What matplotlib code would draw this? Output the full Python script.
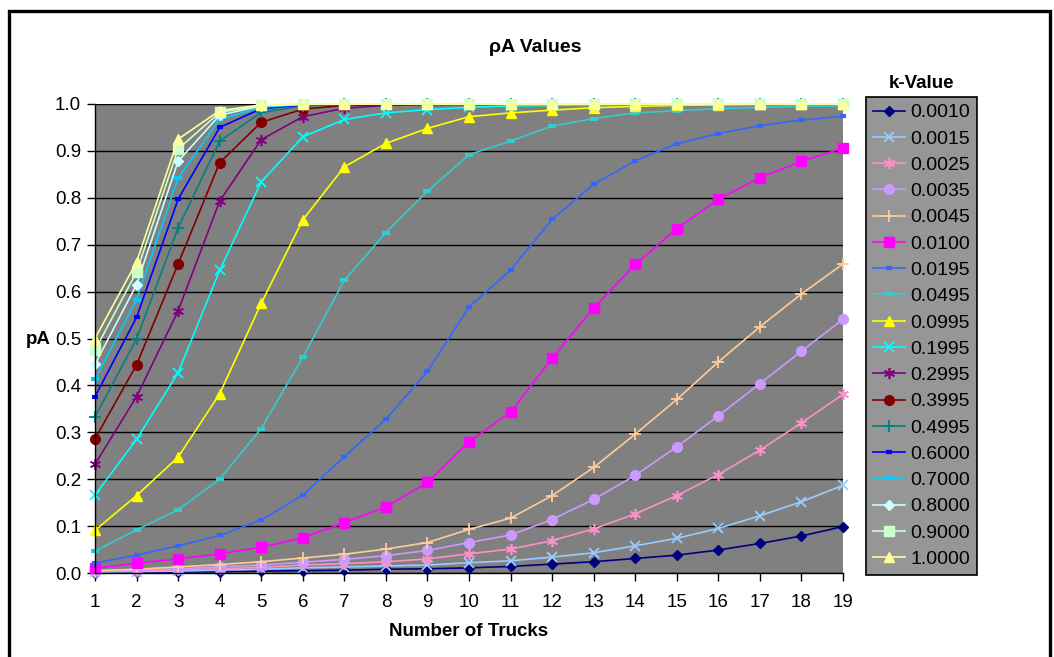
import numpy as np
import matplotlib
matplotlib.use('Agg')
import matplotlib.pyplot as plt
import matplotlib.patches as patches

plt.rcParams['font.family'] = ['Liberation Sans', 'DejaVu Sans']

# number of trucks
trucks = list(range(1, 20))

k_labels = ['0.0010', '0.0015', '0.0025', '0.0035', '0.0045', '0.0100', '0.0195', '0.0495', '0.0995',
            '0.1995', '0.2995', '0.3995', '0.4995', '0.6000', '0.7000', '0.8000', '0.9000', '1.0000']

pa_0010 = [0.001, 0.002, 0.002, 0.003, 0.004, 0.005, 0.006, 0.008, 0.009, 0.011, 0.014, 0.019, 0.024, 0.031, 0.038, 0.049, 0.063, 0.079, 0.099]
pa_0015 = [0.002, 0.003, 0.004, 0.006, 0.008, 0.011, 0.013, 0.015, 0.017, 0.022, 0.026, 0.034, 0.043, 0.058, 0.074, 0.095, 0.122, 0.152, 0.187]
pa_0025 = [0.003, 0.005, 0.007, 0.009, 0.012, 0.017, 0.020, 0.024, 0.030, 0.041, 0.051, 0.069, 0.094, 0.126, 0.165, 0.210, 0.262, 0.320, 0.381]
pa_0035 = [0.004, 0.006, 0.009, 0.013, 0.017, 0.023, 0.029, 0.037, 0.048, 0.065, 0.081, 0.114, 0.157, 0.208, 0.269, 0.335, 0.404, 0.473, 0.541]
pa_0045 = [0.005, 0.008, 0.013, 0.018, 0.024, 0.032, 0.040, 0.051, 0.065, 0.093, 0.117, 0.165, 0.225, 0.296, 0.370, 0.450, 0.525, 0.595, 0.659]
pa_0100 = [0.010, 0.021, 0.030, 0.041, 0.055, 0.075, 0.107, 0.141, 0.193, 0.280, 0.343, 0.458, 0.565, 0.658, 0.734, 0.797, 0.843, 0.878, 0.906]
pa_0195 = [0.021, 0.038, 0.058, 0.080, 0.113, 0.166, 0.248, 0.328, 0.430, 0.567, 0.646, 0.754, 0.829, 0.879, 0.915, 0.937, 0.954, 0.966, 0.974]
pa_0495 = [0.047, 0.092, 0.135, 0.200, 0.308, 0.460, 0.624, 0.726, 0.814, 0.892, 0.921, 0.953, 0.969, 0.981, 0.986, 0.990, 0.993, 0.995, 0.996]
pa_0995 = [0.091, 0.165, 0.247, 0.382, 0.575, 0.753, 0.866, 0.916, 0.948, 0.973, 0.981, 0.987, 0.992, 0.995, 0.997, 0.998, 0.999, 0.999, 1.000]
pa_1995 = [0.166, 0.285, 0.427, 0.645, 0.834, 0.930, 0.967, 0.981, 0.988, 0.993, 0.996, 0.997, 0.998, 0.999, 0.999, 1.000, 1.000, 1.000, 1.000]
pa_2995 = [0.232, 0.376, 0.559, 0.793, 0.924, 0.973, 0.991, 0.997, 0.999, 1.000, 1.000, 1.000, 1.000, 1.000, 1.000, 1.000, 1.000, 1.000, 1.000]
pa_3995 = [0.286, 0.444, 0.659, 0.875, 0.961, 0.989, 0.997, 0.999, 1.000, 1.000, 1.000, 1.000, 1.000, 1.000, 1.000, 1.000, 1.000, 1.000, 1.000]
pa_4995 = [0.333, 0.499, 0.736, 0.921, 0.982, 0.996, 0.999, 1.000, 1.000, 1.000, 1.000, 1.000, 1.000, 1.000, 1.000, 1.000, 1.000, 1.000, 1.000]
pa_6000 = [0.376, 0.545, 0.797, 0.950, 0.990, 0.998, 1.000, 1.000, 1.000, 1.000, 1.000, 1.000, 1.000, 1.000, 1.000, 1.000, 1.000, 1.000, 1.000]
pa_7000 = [0.413, 0.583, 0.842, 0.967, 0.993, 0.999, 1.000, 1.000, 1.000, 1.000, 1.000, 1.000, 1.000, 1.000, 1.000, 1.000, 1.000, 1.000, 1.000]
pa_8000 = [0.445, 0.615, 0.878, 0.976, 0.996, 0.999, 1.000, 1.000, 1.000, 1.000, 1.000, 1.000, 1.000, 1.000, 1.000, 1.000, 1.000, 1.000, 1.000]
pa_9000 = [0.475, 0.642, 0.904, 0.982, 0.997, 1.000, 1.000, 1.000, 1.000, 1.000, 1.000, 1.000, 1.000, 1.000, 1.000, 1.000, 1.000, 1.000, 1.000]
pa_10000 = [0.500, 0.663, 0.925, 0.986, 0.998, 1.000, 1.000, 1.000, 1.000, 1.000, 1.000, 1.000, 1.000, 1.000, 1.000, 1.000, 1.000, 1.000, 1.000]

all_series = [pa_0010, pa_0015, pa_0025, pa_0035, pa_0045, pa_0100, pa_0195, pa_0495, pa_0995,
              pa_1995, pa_2995, pa_3995, pa_4995, pa_6000, pa_7000, pa_8000, pa_9000, pa_10000]

# excel-ish palette + markers, (color, marker, markersize, mew)
star = (6, 2, 0)
styles = [
	('#000080', 'D', 5, 1),
	('#99CCFF', 'x', 7, 1.3),
	('#FF8FC8', star, 8, 1.2),
	('#CC99FF', 'o', 7, 1),
	('#FFCC99', '+', 9, 1.3),
	('#FF00FF', 's', 7, 1),
	('#3366FF', '_', 5, 3),
	('#33CCCC', '_', 6, 3),
	('#FFFF00', '^', 7.5, 1),
	('#00FFFF', 'x', 7, 1.3),
	('#800080', star, 8, 1.2),
	('#800000', 'o', 7, 1),
	('#008080', '+', 9, 1.3),
	('#0000FF', '_', 5, 3),
	('#00CCFF', '_', 6, 3),
	('#CCFFFF', 'D', 5, 1),
	('#CCFFCC', 's', 7, 1),
	('#FFFF99', '^', 7.5, 1),
]

fig = plt.figure(figsize=(10.54, 6.57), dpi=100)
W, H = 1054.0, 657.0
ax = fig.add_axes([95 / W, 1 - 573 / H, (843 - 95) / W, (573 - 104) / H])
ax.set_facecolor('#808080')

for vals, lab, (col, mk, ms, mew) in zip(all_series, k_labels, styles):
	ax.plot(trucks, vals, color=col, marker=mk, markersize=ms, markeredgewidth=mew,
	        markerfacecolor=col, markeredgecolor=col, lw=1.2, label=lab, clip_on=False)

ax.set_xlim(1, 19)
ax.set_ylim(0, 1.0)
ax.set_xticks(trucks)
ax.set_yticks(np.arange(0, 1.01, 0.1))
ax.set_yticklabels(['%.1f' % v for v in np.arange(0, 1.01, 0.1)])
ax.grid(axis='y', color='black', lw=1.0)
ax.set_axisbelow(True)
for s in ['top', 'right']:
	ax.spines[s].set_visible(False)
for s in ['left', 'bottom']:
	ax.spines[s].set_color('black')
	ax.spines[s].set_linewidth(1.0)
ax.tick_params(axis='both', direction='out', length=6, width=1, labelsize=13.5, colors='black')
ax.tick_params(axis='x', pad=9)
ax.tick_params(axis='y', pad=4)

fig.text(535 / W, 1 - 47 / H, 'ρA Values', ha='center', va='center', fontsize=14, fontweight='bold')
fig.text(38 / W, 1 - 340 / H, 'pA', ha='center', va='center', fontsize=13.5, fontweight='bold')
fig.text(469 / W, 1 - 632 / H, 'Number of Trucks', ha='center', va='center', fontsize=13.5, fontweight='bold')
fig.text(922 / W, 1 - 83 / H, 'k-Value', ha='center', va='center', fontsize=13.5, fontweight='bold')

leg = ax.legend(loc='upper left', bbox_to_anchor=(866 / W, 1 - 97 / H), bbox_transform=fig.transFigure,
                fontsize=14, frameon=True, fancybox=False, borderaxespad=0, borderpad=0.35,
                labelspacing=0.445, handlelength=1.65, handletextpad=0.3)
leg.get_frame().set_facecolor('#969696')
leg.get_frame().set_edgecolor('black')
leg.get_frame().set_linewidth(1.2)
leg.get_frame().set_alpha(1)

# outer chart border
border = patches.Rectangle((9 / W, -0.2), (1050 - 9) / W, 1.2 - 11 / H, transform=fig.transFigure,
                           fill=False, lw=2.4, edgecolor='black', clip_on=False)
fig.patches.append(border)

fig.savefig('out.png', dpi=100)
